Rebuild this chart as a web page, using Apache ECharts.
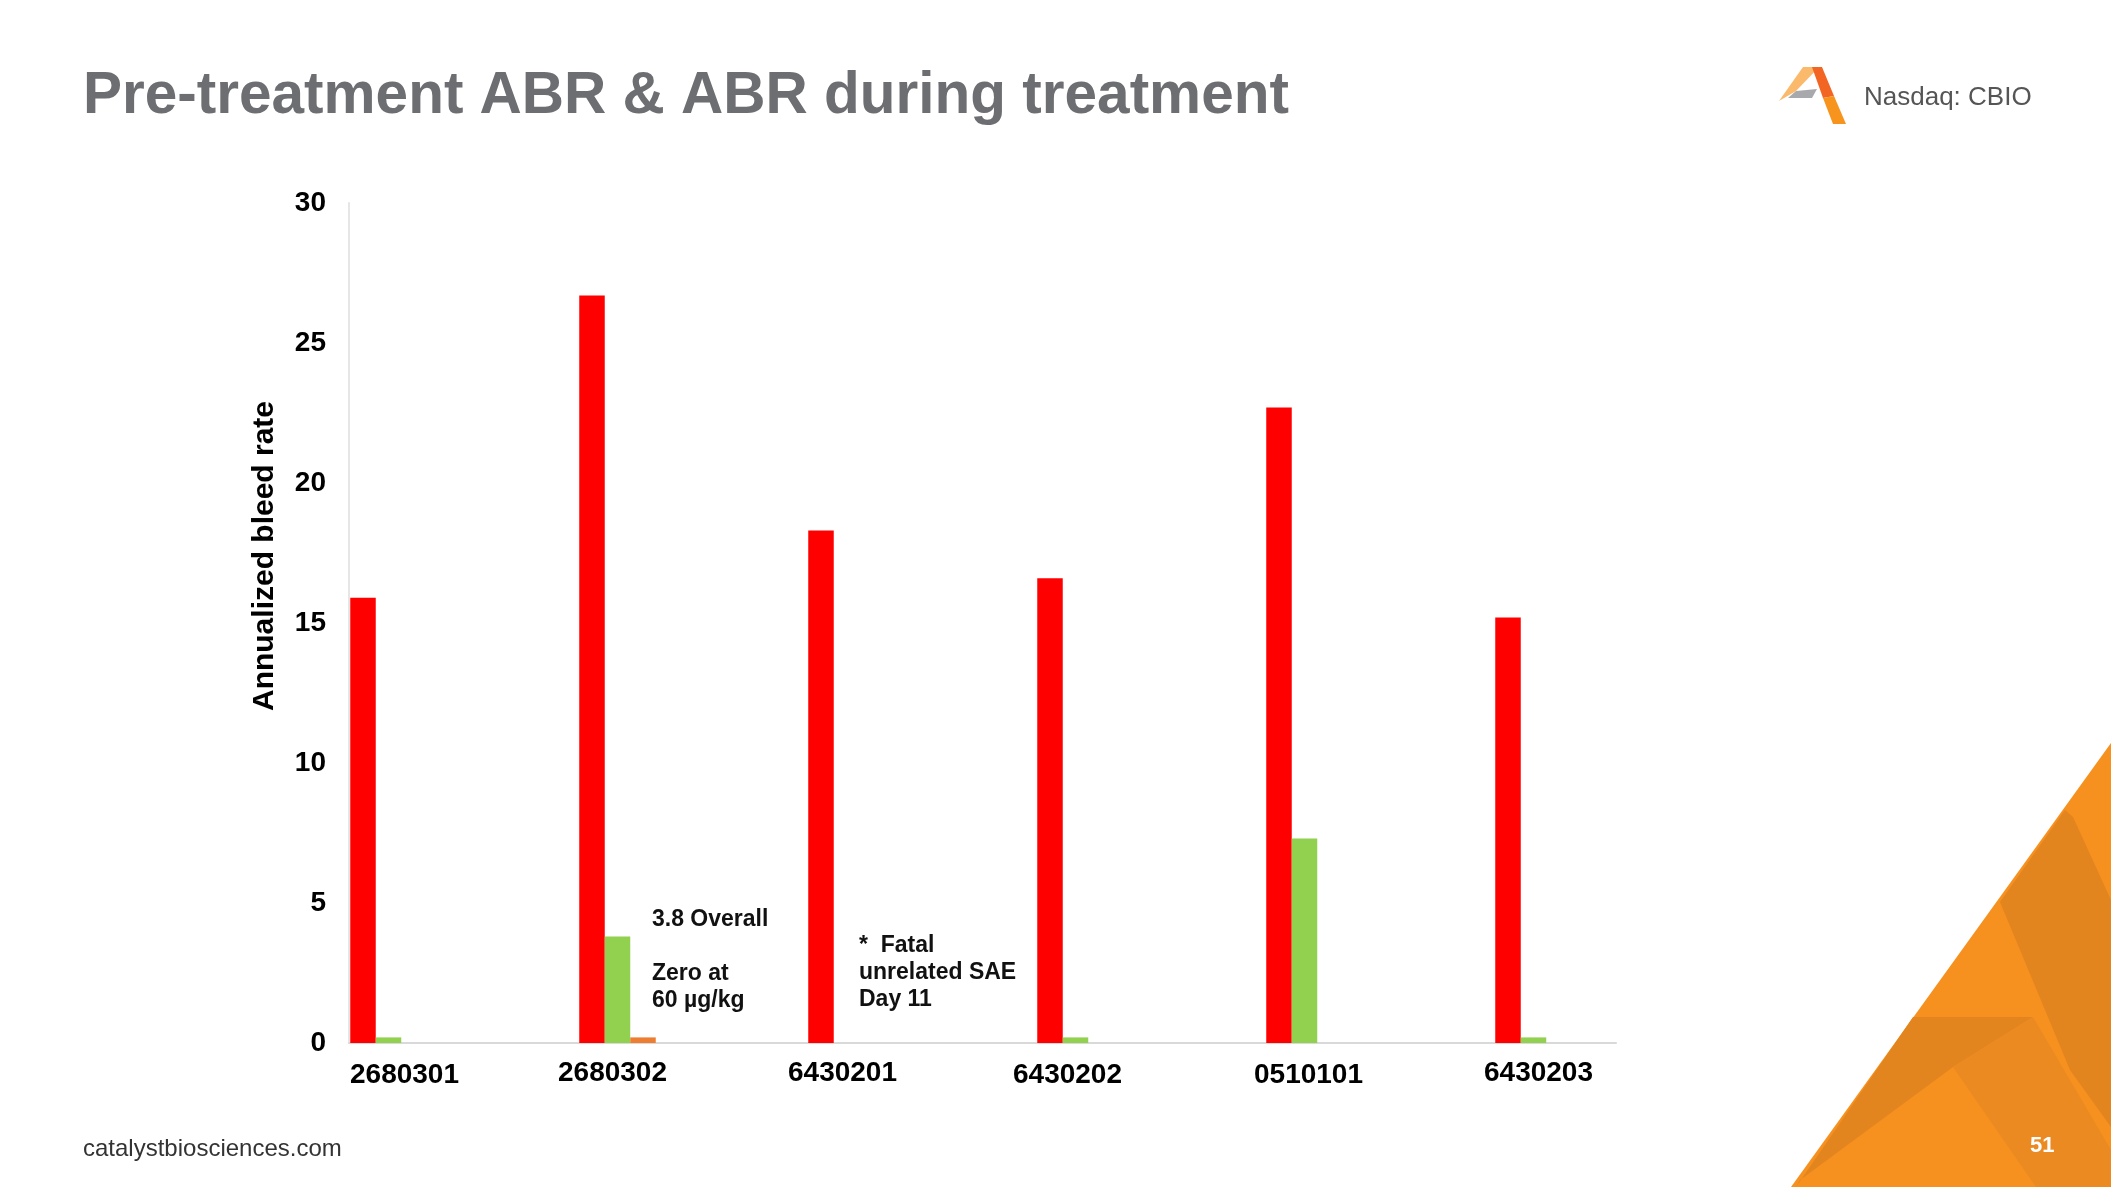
<!DOCTYPE html>
<html>
<head>
<meta charset="utf-8">
<script src="https://cdn.jsdelivr.net/npm/echarts@6/dist/echarts.min.js"></script>
<style>
html,body{margin:0;padding:0;background:#fff;}
#chart{width:2111px;height:1187px;}
</style>
</head>
<body>
<div id="chart"></div>
<script>
// ---- data ----
const categories = ['2680301', '2680302', '6430201', '6430202', '0510101', '6430203'];
const preTreatmentABR = [15.9, 26.7, 18.3, 16.6, 22.7, 15.2];
const duringTreatmentABR = [0.2, 3.8, 0, 0.2, 7.3, 0.2];
const at60ABR = [null, 0.2, null, null, null, null];
const yMin = 0, yMax = 30, yStep = 5;

const titleText = 'Pre-treatment ABR & ABR during treatment';
const yAxisTitle = 'Annualized bleed rate';
const note1 = ['3.8 Overall', '', 'Zero at', '60 µg/kg'];
const note2 = ['*  Fatal', 'unrelated SAE', 'Day 11'];

// ---- layout (label nudges, px: [dx, dy]) ----
const labelNudge = [[16, 1], [-5, -2], [-4, -1], [-8, 1], [4, 1], [5, -4]];

// ---- chart ----
const chart = echarts.init(document.getElementById('chart'), null, {renderer: 'canvas'});
const plotTop = 203, plotHeight = 840;
const FONT = "'Liberation Sans', Arial, Helvetica, sans-serif";

function noteText(lines, x, y) {
  return lines.map((t, i) => ({
    type: 'text', left: x, top: y + i * 27 - 14,
    style: {text: t, font: 'bold 23px ' + FONT, fill: '#111'}
  }));
}

const categoryData = categories.map((c, i) => {
  const dx = labelNudge[i][0], dy = labelNudge[i][1];
  return {
    value: c,
    textStyle: {
      padding: [Math.max(dy, 0) * 2, dx < 0 ? -dx * 2 : 0, Math.max(-dy, 0) * 2, dx > 0 ? dx * 2 : 0]
    }
  };
});

const triangle = [
  {type: 'polygon', shape: {points: [[2111, 743], [2111, 1187], [1791, 1187]]}, style: {fill: '#F6901E'}},
  {type: 'polygon', shape: {points: [[2065, 810], [2073, 817], [2111, 900], [2111, 1127], [2070, 1070], [2000, 902]]}, style: {fill: '#E3851F'}},
  {type: 'polygon', shape: {points: [[1913, 1017], [2033, 1017], [1953, 1067], [1800, 1180], [1796, 1187]]}, style: {fill: '#E3851F'}},
  {type: 'polygon', shape: {points: [[1953, 1067], [2033, 1017], [2111, 1150], [2111, 1187], [2036, 1187]]}, style: {fill: '#EC8A22'}}
];

const logo = [
  {type: 'polygon', shape: {points: [[1803, 67], [1819, 67], [1796, 91], [1779, 101]]}, style: {fill: '#FBB96B'}},
  {type: 'polygon', shape: {points: [[1796, 91], [1817, 89], [1812, 98], [1788, 98]]}, style: {fill: '#A7A9AC'}},
  {type: 'polygon', shape: {points: [[1812, 67], [1822, 67], [1834, 96], [1823, 98]]}, style: {fill: '#F26522'}},
  {type: 'polygon', shape: {points: [[1823, 98], [1834, 96], [1846, 124], [1833, 124]]}, style: {fill: '#F7941D'}}
];

const option = {
  backgroundColor: '#ffffff',
  animation: false,
  grid: [
    {left: 274, top: plotTop, width: 1374, height: plotHeight, containLabel: false},
    {left: 349, top: plotTop, width: 1267, height: plotHeight, containLabel: false}
  ],
  xAxis: [
    {
      type: 'category', gridIndex: 0, data: categoryData,
      axisLine: {show: false}, axisTick: {show: false}, splitLine: {show: false},
      axisLabel: {color: '#000', fontFamily: FONT, fontWeight: 'bold', fontSize: 28, margin: 16}
    },
    {
      type: 'value', gridIndex: 1, min: 0, max: 1,
      axisLine: {show: true, lineStyle: {color: '#D9D9D9', width: 2}},
      axisTick: {show: false}, axisLabel: {show: false}, splitLine: {show: false}
    }
  ],
  yAxis: [
    {type: 'value', gridIndex: 0, min: yMin, max: yMax, interval: yStep, show: false},
    {
      type: 'value', gridIndex: 1, min: yMin, max: yMax, interval: yStep,
      axisLine: {show: true, lineStyle: {color: '#E6E6E6', width: 2}},
      axisTick: {show: false}, splitLine: {show: false},
      axisLabel: {color: '#000', fontFamily: FONT, fontWeight: 'bold', fontSize: 28, margin: 23}
    }
  ],
  series: [
    {type: 'bar', name: 'Pre-treatment ABR', xAxisIndex: 0, yAxisIndex: 0, data: preTreatmentABR,
      barWidth: 25.5, barGap: '0%', itemStyle: {color: '#FF0000'}, z: 3},
    {type: 'bar', name: 'ABR during treatment', xAxisIndex: 0, yAxisIndex: 0, data: duringTreatmentABR,
      barWidth: 25.5, barGap: '0%', itemStyle: {color: '#92D050'}, z: 3},
    {type: 'bar', name: 'ABR at 60 µg/kg', xAxisIndex: 0, yAxisIndex: 0, data: at60ABR,
      barWidth: 25.5, barGap: '0%', itemStyle: {color: '#ED7D31'}, z: 3}
  ],
  graphic: [
    ...triangle,
    ...logo,
    {type: 'text', left: 83, top: 67, style: {text: titleText, font: 'bold 58.5px ' + FONT, fill: '#6D6E71'}},
    {type: 'text', left: 1864, top: 85, style: {text: 'Nasdaq: CBIO', font: '26px ' + FONT, fill: '#555555'}},
    {type: 'text', left: 83, top: 1137, style: {text: 'catalystbiosciences.com', font: '24px ' + FONT, fill: '#333333'}},
    {type: 'text', left: 2030, top: 1135, style: {text: '51', font: 'bold 22px ' + FONT, fill: '#ffffff'}},
    {type: 'text', x: 265, y: 556, rotation: Math.PI / 2,
      style: {text: yAxisTitle, font: 'bold 30px ' + FONT, fill: '#000', align: 'center', verticalAlign: 'middle',
        textAlign: 'center', textVerticalAlign: 'middle'}},
    ...noteText(note1, 652, 922),
    ...noteText(note2, 859, 948)
  ]
};
chart.setOption(option);
</script>
</body>
</html>
